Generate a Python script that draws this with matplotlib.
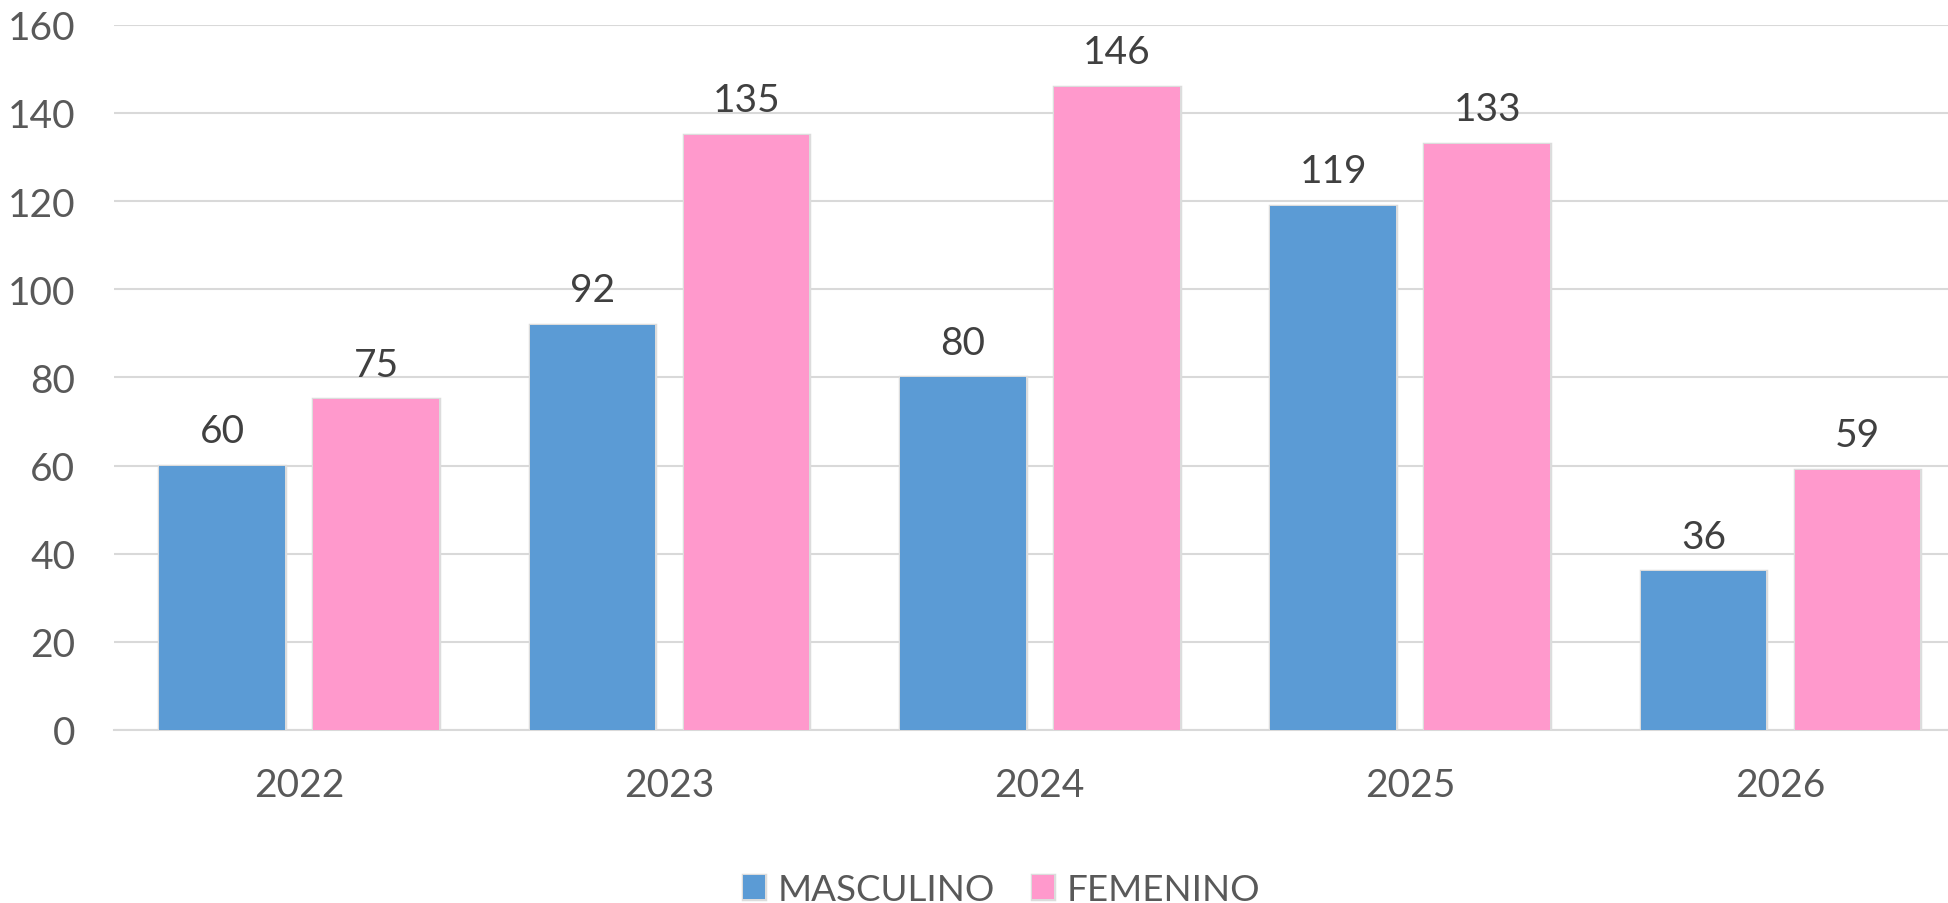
import matplotlib.pyplot as plt
import matplotlib.patheffects as pe
import numpy as np

years = ["2022", "2023", "2024", "2025", "2026"]
masculino = [60, 92, 80, 119, 36]
femenino = [75, 135, 146, 133, 59]

plt.rcParams["font.family"] = ["Lato", "DejaVu Sans"]

fig = plt.figure(figsize=(19.49, 9.04), dpi=100)
ax = fig.add_axes([0.0585, 0.1914, 0.950, 0.78])

x = np.arange(len(years))
w = 0.339
shadow = [pe.Stroke(linewidth=2.5, foreground="#dcdcdc"), pe.Normal()]

b1 = ax.bar(x - 0.208, masculino, w, color="#5b9bd5", label="MASCULINO", zorder=3)
b2 = ax.bar(x + 0.208, femenino, w, color="#ff99cc", label="FEMENINO", zorder=3)
for bars in (b1, b2):
    for b in bars:
        b.set_path_effects(shadow)
    ax.bar_label(bars, padding=12, fontsize=28, color="#404040")

ax.set_xlim(-0.5, len(years) - 0.5)
ax.set_ylim(0, 160)
ax.set_yticks(range(0, 161, 20))
ax.set_xticks(x)
ax.set_xticklabels(years)
ax.tick_params(axis="both", length=0, labelsize=28, colors="#595959")
ax.tick_params(axis="y", pad=28)
ax.tick_params(axis="x", pad=27)
ax.grid(axis="y", color="#d9d9d9", linewidth=1.5, zorder=0)
for s in ["top", "right", "left"]:
    ax.spines[s].set_visible(False)
ax.spines["bottom"].set_color("#d9d9d9")
ax.spines["bottom"].set_linewidth(1.5)

leg = fig.legend(loc="lower center", bbox_to_anchor=(0.514, -0.04), ncol=2, frameon=False,
                 fontsize=26.5, handlelength=0.6, handleheight=0.6, columnspacing=1.0,
                 handletextpad=0.35)
for t in leg.get_texts():
    t.set_color("#595959")

fig.savefig("out.png", dpi=100)
